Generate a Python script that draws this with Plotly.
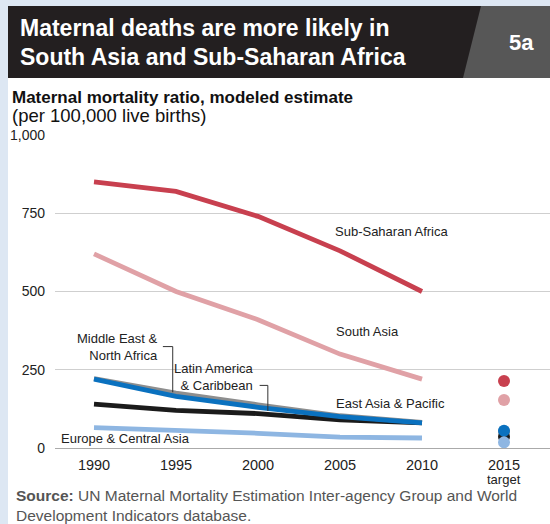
import plotly.graph_objects as go

years = [1990, 1995, 2000, 2005, 2010]
target_year = 2015
ssa = [850, 820, 740, 630, 500]
sa = [620, 500, 410, 300, 220]
mena = [222, 175, 138, 103, 82]
lac = [140, 120, 110, 90, 80]
eap = [220, 165, 130, 100, 80]
eca = [65, 57, 47, 35, 32]
targets = {"Sub-Saharan Africa": 214, "South Asia": 153, "Middle East & North Africa": 52,
           "Latin America & Caribbean": 36, "Europe & Central Asia": 18, "East Asia & Pacific": 55}
colors = {"Sub-Saharan Africa": "#c8404f", "South Asia": "#e0a1a6",
          "Middle East & North Africa": "#8e8e8e", "Latin America & Caribbean": "#1b1b1b",
          "East Asia & Pacific": "#0a71bf", "Europe & Central Asia": "#8eb6e2"}
series = {"Sub-Saharan Africa": ssa, "South Asia": sa, "Middle East & North Africa": mena,
          "Latin America & Caribbean": lac, "East Asia & Pacific": eap, "Europe & Central Asia": eca}
x_ticks = [1990, 1995, 2000, 2005, 2010, 2015]
x_tick_labels = ["1990", "1995", "2000", "2005", "2010", "2015"]
target_label = "target"
y_ticks = [0, 250, 500, 750, 1000]

W, H = 550, 524
L, R, T, B = 55, 0, 135, 76
PW, PH = W - L - R, H - T - B

def px(x):
    return (x - L) / PW

def py(y):
    return (H - B - y) / PH

fig = go.Figure()
line_order = ["Europe & Central Asia", "South Asia", "Sub-Saharan Africa",
              "Latin America & Caribbean", "Middle East & North Africa", "East Asia & Pacific"]
for name in line_order:
    fig.add_trace(go.Scatter(x=years, y=series[name], mode="lines", name=name,
                             line=dict(color=colors[name], width=4.8), hoverinfo="skip"))
dot_order = ["Sub-Saharan Africa", "South Asia", "Middle East & North Africa",
             "Latin America & Caribbean", "East Asia & Pacific", "Europe & Central Asia"]
for name in dot_order:
    fig.add_trace(go.Scatter(x=[target_year], y=[targets[name]], mode="markers",
                             marker=dict(color=colors[name], size=12, line=dict(width=0)),
                             hoverinfo="skip"))

shapes = [
    dict(type="rect", xref="paper", yref="paper", x0=px(8), x1=px(552), y0=py(6), y1=py(526),
         fillcolor="white", line=dict(width=0), layer="below"),
    dict(type="rect", xref="paper", yref="paper", x0=px(8), x1=px(552), y0=py(6), y1=py(78),
         fillcolor="#231f20", line=dict(width=0), layer="below"),
    dict(type="path", xref="paper", yref="paper",
         path=f"M {px(481)},{py(6)} L {px(552)},{py(6)} L {px(552)},{py(78)} L {px(463)},{py(78)} Z",
         fillcolor="#575757", line=dict(width=0), layer="below"),
    # leader lines
    dict(type="path", xref="x", yref="y",
         path="M 1994.2,324 L 1994.8,324 L 1994.8,178", line=dict(color="#333", width=1)),
    dict(type="path", xref="x", yref="y",
         path="M 2000.1,200 L 2000.6,200 L 2000.6,118", line=dict(color="#333", width=1)),
]

lab_font = dict(family="Liberation Sans, Arial, sans-serif", size=13, color="#222")
sans = "Liberation Sans, Arial, sans-serif"
annotations = [
    dict(text="Maternal deaths are more likely in", x=px(18), y=py(28), xref="paper", yref="paper",
         xanchor="left", yanchor="middle", showarrow=False,
         font=dict(family=sans, size=23, color="white", weight="bold")),
    dict(text="South Asia and Sub-Saharan Africa", x=px(18), y=py(57), xref="paper", yref="paper",
         xanchor="left", yanchor="middle", showarrow=False,
         font=dict(family=sans, size=23, color="white", weight="bold")),
    dict(text="5a", x=px(521), y=py(42), xref="paper", yref="paper", xanchor="center", yanchor="middle",
         showarrow=False, font=dict(family=sans, size=22, color="white", weight="bold")),
    dict(text="<b>Maternal mortality ratio, modeled estimate</b>", x=px(10), y=py(97), xref="paper", yref="paper",
         xanchor="left", yanchor="middle", showarrow=False,
         font=dict(family=sans, size=17, color="#111")),
    dict(text="(per 100,000 live births)", x=px(10), y=py(115), xref="paper", yref="paper",
         xanchor="left", yanchor="middle", showarrow=False,
         font=dict(family=sans, size=18.5, color="#111")),
    dict(text="<b>Source:</b> UN Maternal Mortality Estimation Inter-agency Group and World<br>Development Indicators database.",
         x=px(14), y=py(505), xref="paper", yref="paper", xanchor="left", yanchor="middle", align="left",
         showarrow=False, font=dict(family=sans, size=15.5, color="#555")),
    dict(text=target_label, x=target_year, y=py(479), xref="x", yref="paper", xanchor="center", yanchor="middle",
         showarrow=False, font=dict(family=sans, size=13, color="#222")),
    dict(text="Sub-Saharan Africa", x=2008.2, y=693, xref="x", yref="y", showarrow=False, font=lab_font),
    dict(text="South Asia", x=2006.7, y=371, xref="x", yref="y", showarrow=False, font=lab_font),
    dict(text="East Asia & Pacific", x=2008.1, y=141, xref="x", yref="y", showarrow=False, font=lab_font),
    dict(text="Middle East &<br>North Africa", x=1994.0, y=323, xref="x", yref="y", xanchor="right",
         align="right", showarrow=False, font=lab_font),
    dict(text="Latin America<br>& Caribbean", x=1999.9, y=228, xref="x", yref="y", xanchor="right",
         align="right", showarrow=False, font=lab_font),
    dict(text="Europe & Central Asia", x=1991.9, y=31, xref="x", yref="y", showarrow=False, font=lab_font),
]

x0 = 1990 - (94 - L) / 16.4
x1 = 2010 + (W - R - 422) / 16.4
fig.update_layout(
    width=W, height=H, margin=dict(l=L, r=R, t=T, b=B),
    paper_bgcolor="#dde7f3", plot_bgcolor="white", showlegend=False,
    shapes=shapes, annotations=annotations,
    font=dict(family=sans, size=14, color="#222"),
    xaxis=dict(range=[x0, x1], tickvals=x_ticks, ticktext=x_tick_labels, showgrid=False,
               zeroline=False, showline=False, ticks="outside", ticklen=4, tickcolor="rgba(0,0,0,0)",
               tickfont=dict(size=14.5, color="#222"), fixedrange=True),
    yaxis=dict(range=[0, 1000], tickvals=y_ticks, tickformat=",", showgrid=True, gridcolor="#cfcfcf",
               gridwidth=1, zeroline=True, zerolinecolor="#aaaaaa", zerolinewidth=1, ticks="",
               tickfont=dict(size=14, color="#222"), ticklabelstandoff=9, fixedrange=True),
)
fig.write_html("out.html", config={"displayModeBar": False},
               post_script="document.body.style.margin='0';document.body.style.padding='0';")
